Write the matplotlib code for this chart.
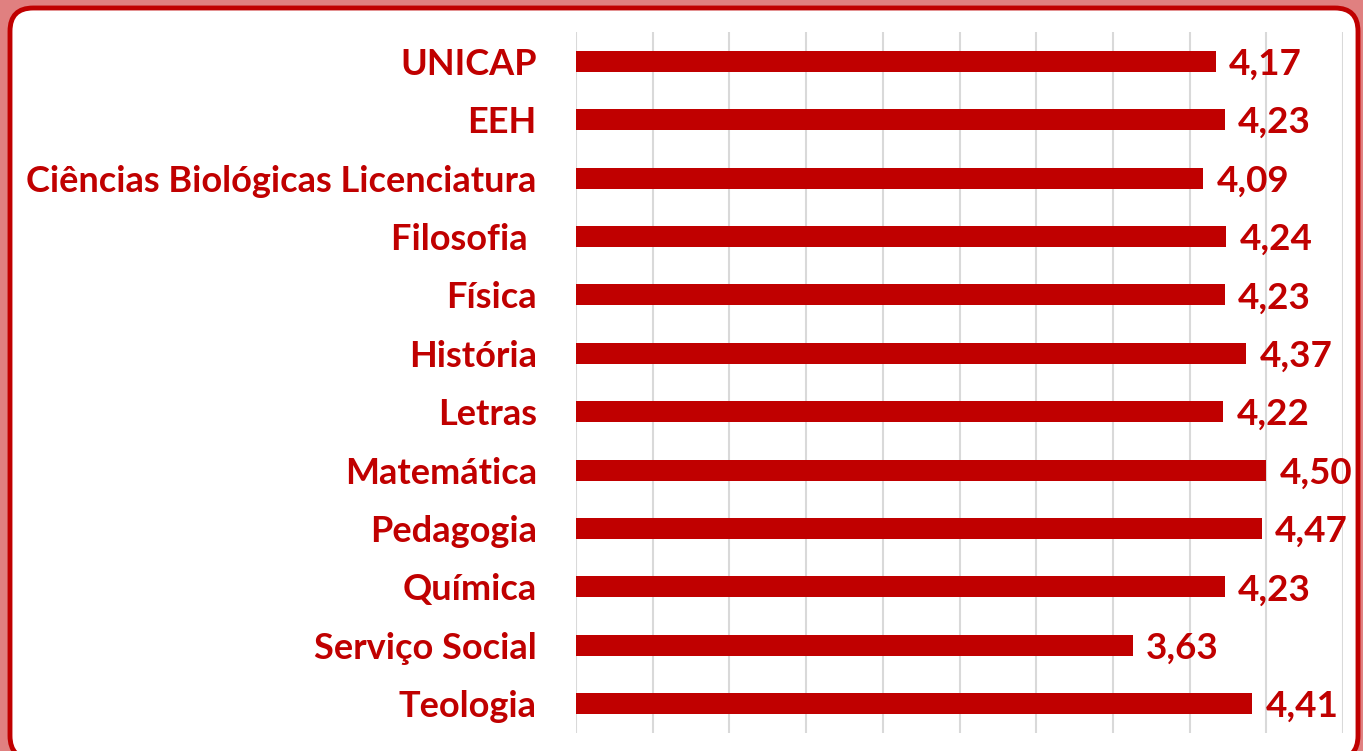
import matplotlib
matplotlib.use("Agg")
import matplotlib.pyplot as plt
from matplotlib.patches import FancyBboxPatch

cursos = ["UNICAP", "EEH", "Ciências Biológicas Licenciatura", "Filosofia ", "Física",
          "História", "Letras", "Matemática", "Pedagogia", "Química",
          "Serviço Social", "Teologia"]
notas = [4.17, 4.23, 4.09, 4.24, 4.23, 4.37, 4.22, 4.50, 4.47, 4.23, 3.63, 4.41]

vermelho = "#C00000"
W, H = 1363, 751

plt.rcParams['font.family'] = ['Lato', 'DejaVu Sans']
fig = plt.figure(figsize=(W / 100, H / 100), dpi=100)
fig.patch.set_facecolor("#E08080")

# moldura branca arredondada
moldura = FancyBboxPatch((10 / W, -8 / H), 1348 / W, (H - 8 + 8) / H,
                         boxstyle="round,pad=0,rounding_size=0.017",
                         transform=fig.transFigure, facecolor="white",
                         edgecolor=vermelho, linewidth=3.5, mutation_aspect=W / H,
                         zorder=-5)
fig.patches.append(moldura)

ax = fig.add_axes([576 / W, 18 / H, (1343 - 576) / W, (733 - 32) / H])
ax.set_facecolor("none")
y = list(range(len(cursos)))
ax.barh(y, notas, height=0.36, color=vermelho, zorder=3)
ax.set_xlim(0, 5)
ax.set_ylim(len(cursos) - 0.5, -0.5)
ax.set_xticks([i * 0.5 for i in range(11)])
ax.grid(axis="x", color="#D9D9D9", linewidth=1.5, zorder=0)
ax.tick_params(left=False, bottom=False, labelbottom=False)
ax.set_yticks(y)
ax.set_yticklabels(cursos, fontsize=26, fontweight="bold", color=vermelho)
ax.tick_params(axis="y", pad=24.7)
for s in ax.spines.values():
    s.set_visible(False)

for yi, v in zip(y, notas):
    ax.text(v + 0.085, yi + 0.05, f"{v:.2f}".replace(".", ","), va="center", ha="left",
            fontsize=26.5, fontweight="bold", color=vermelho)

fig.savefig("out.png", dpi=100, facecolor=fig.get_facecolor())
